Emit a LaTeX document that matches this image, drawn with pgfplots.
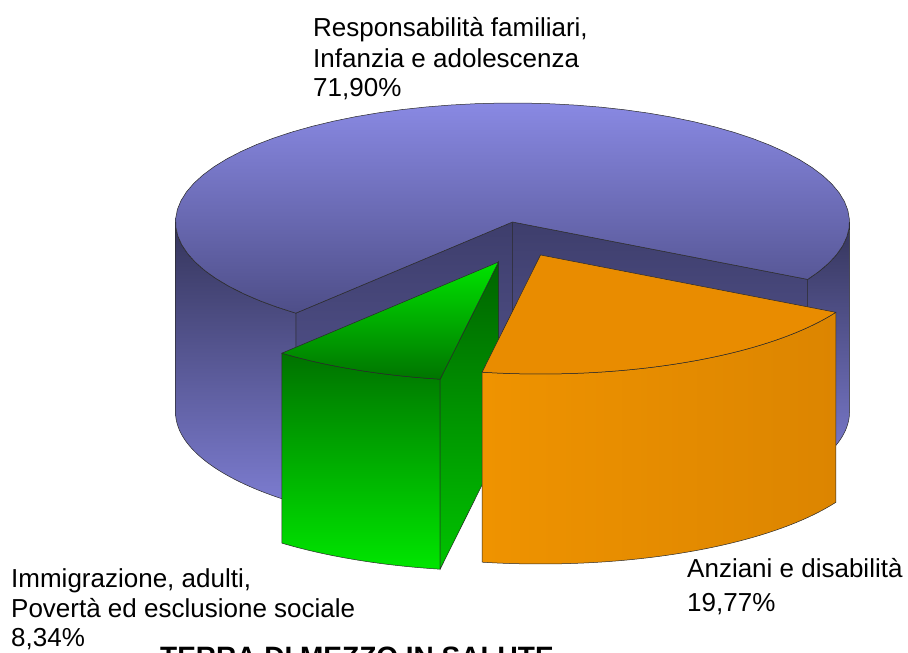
\documentclass[border=0pt]{standalone}
\usepackage{pgfplots}
\pgfplotsset{compat=1.18}
\usepackage{fontspec}
\setmainfont{Liberation Sans}

\definecolor{bTopA}{HTML}{8989E3}
\definecolor{bTopB}{HTML}{4E4E88}
\definecolor{bCutA}{HTML}{3E3E6C}
\definecolor{bCutB}{HTML}{5C5C9C}
\definecolor{bSideA}{HTML}{34345A}
\definecolor{bSideB}{HTML}{7C7CD0}
\definecolor{gTopA}{HTML}{00E400}
\definecolor{gTopB}{HTML}{007400}
\definecolor{gSideA}{HTML}{007200}
\definecolor{gSideB}{HTML}{00E600}
\definecolor{gCutA}{HTML}{006400}
\definecolor{gCutB}{HTML}{00C400}
\definecolor{oTop}{HTML}{E98C00}
\definecolor{oSideA}{HTML}{EF9300}
\definecolor{oSideB}{HTML}{DC8500}
\definecolor{edge}{HTML}{2A2A2A}

% geometry (1 unit = 1 pt)
\def\RX{337}
\def\RY{119}
\def\HH{190}

% shares in percent
\def\pBlue{71.90}
\def\pGreen{8.34}
\def\pOrange{19.77}

\pgfmathsetmacro\aS{-28.84}
\pgfmathsetmacro\aB{\aS+3.6*\pBlue}
\pgfmathsetmacro\aG{\aB+3.6*\pGreen}
\pgfmathsetmacro\aO{\aG+3.6*\pOrange}

% top face of a slice: #1 opts, #2 cx, #3 cy, #4 start angle, #5 end angle
\newcommand{\pietop}[5]{%
\addplot[#1, samples at={0,1,...,61}]
 ({#2 + ((x>60.5) ? 0 : \RX*cos((#4)+((#5)-(#4))*x/60))},
  {#3 + ((x>60.5) ? 0 : \RY*sin((#4)+((#5)-(#4))*x/60))}) -- cycle;}

% outer cylinder side between two angles
\newcommand{\pieside}[5]{%
\addplot[#1, samples at={0,1,...,121}]
 ({#2 + \RX*cos((x<60.5) ? ((#4)+((#5)-(#4))*x/60) : ((#5)-((#5)-(#4))*(x-61)/60))},
  {#3 + \RY*sin((x<60.5) ? ((#4)+((#5)-(#4))*x/60) : ((#5)-((#5)-(#4))*(x-61)/60)) - ((x<60.5) ? 0 : \HH)}) -- cycle;}

% radial cut face at an angle
\newcommand{\piecut}[4]{%
\addplot[#1, samples at={0,1,2,3}]
 ({#2 + (and(x>0.5,x<2.5) ? \RX*cos(#4) : 0)},
  {#3 + (and(x>0.5,x<2.5) ? \RY*sin(#4) : 0) - ((x>1.5) ? \HH : 0)}) -- cycle;}

\begin{document}
\begin{tikzpicture}
\begin{axis}[
  scale only axis, width=908pt, height=653pt,
  xmin=0, xmax=908, ymin=0, ymax=653,
  hide axis, clip=false, no markers,
]
% ---- blue slice (not exploded)
\piecut{draw=edge, line width=0.5pt, top color=bCutA, bottom color=bCutB}{512.5}{431}{\aB}
\piecut{draw=edge, line width=0.5pt, top color=bCutA, bottom color=bCutB}{512.5}{431}{\aS}
\pieside{draw=edge, line width=0.5pt, top color=bSideA, bottom color=bSideB}{512.5}{431}{180}{\aB}
\pieside{draw=edge, line width=0.5pt, top color=bSideA, bottom color=bSideB}{512.5}{431}{\aS}{0}
\pietop{draw=edge, line width=0.5pt, top color=bTopA, bottom color=bTopB}{512.5}{431}{\aS}{\aB}
% ---- green slice (exploded)
\pieside{draw=edge, line width=0.5pt, top color=gSideA, bottom color=gSideB}{498.5}{391}{\aB}{\aG}
\piecut{draw=edge, line width=0.5pt, top color=gCutA, bottom color=gCutB}{498.5}{391}{\aG}
\pietop{draw=edge, line width=0.5pt, top color=gTopA, bottom color=gTopB}{498.5}{391}{\aB}{\aG}
% ---- orange slice (exploded)
\pieside{draw=edge, line width=0.5pt, left color=oSideA, middle color=oSideA, right color=oSideB}{540.5}{398}{\aG}{\aO}
\pietop{draw=edge, line width=0.5pt, fill=oTop}{540.5}{398}{\aG}{\aO}

% ---- labels
\begin{scope}[every node/.style={anchor=base west, inner sep=0pt, font=\fontsize{26}{31}\selectfont}]
\node at (313,616) {Responsabilità familiari,};
\node at (313,585) {Infanzia e adolescenza};
\node at (313,556) {71,90\%};
\node at (11,65) {Immigrazione, adulti,};
\node at (11,35) {Povertà ed esclusione sociale};
\node at (11,6) {8,34\%};
\node at (687,75) {Anziani e disabilità};
\node at (687,41) {19,77\%};
\end{scope}
\node[anchor=base west, inner sep=0pt, font=\fontsize{28}{30}\selectfont\bfseries] at (160,-14) {TERRA DI MEZZO IN SALUTE};
\end{axis}
\pgfresetboundingbox
\path[use as bounding box] (current axis.south west) rectangle (current axis.north east);
\end{tikzpicture}
\end{document}
